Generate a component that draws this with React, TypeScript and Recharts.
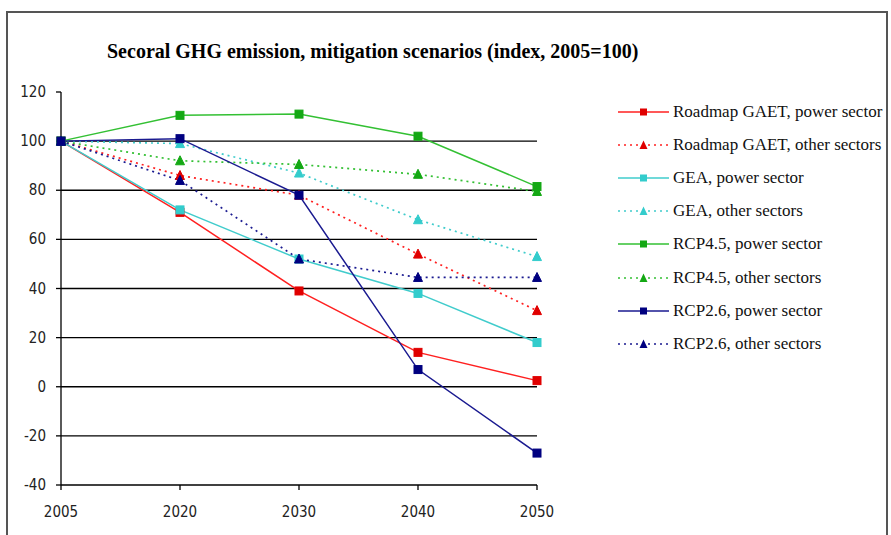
import React from 'react';
import { LineChart, Line, XAxis, YAxis, CartesianGrid, Legend } from 'recharts';

const years = ['2005', '2020', '2030', '2040', '2050'];
const roadmapPower = [100, 71, 39, 14, 2.5];
const roadmapOther = [100, 86, 78, 54, 31];
const geaPower = [100, 72, 52, 38, 18];
const geaOther = [100, 99, 87, 68, 53];
const rcp45Power = [100, 110.5, 111, 102, 81.5];
const rcp45Other = [100, 92, 90.5, 86.5, 79.5];
const rcp26Power = [100, 101, 78, 7, -27];
const rcp26Other = [100, 84, 52, 44.5, 44.5];
const yTicks = [-40, -20, 0, 20, 40, 60, 80, 100, 120];
const gridValues = [-20, 0, 20, 40, 60, 80, 100];

const title = 'Secoral GHG emission, mitigation scenarios (index, 2005=100)';

type SeriesDef = { key: string; name: string; values: number[]; line: string; marker: string; dashed: boolean };

const series: SeriesDef[] = [
  { key: 'roadmapPower', name: 'Roadmap GAET, power sector', values: roadmapPower, line: '#FF2020', marker: '#E00000', dashed: false },
  { key: 'roadmapOther', name: 'Roadmap GAET, other sectors', values: roadmapOther, line: '#FF2020', marker: '#E00000', dashed: true },
  { key: 'geaPower', name: 'GEA, power sector', values: geaPower, line: '#40CCCC', marker: '#33CCCC', dashed: false },
  { key: 'geaOther', name: 'GEA, other sectors', values: geaOther, line: '#40CCCC', marker: '#33CCCC', dashed: true },
  { key: 'rcp45Power', name: 'RCP4.5, power sector', values: rcp45Power, line: '#33C033', marker: '#14A814', dashed: false },
  { key: 'rcp45Other', name: 'RCP4.5, other sectors', values: rcp45Other, line: '#33C033', marker: '#14A814', dashed: true },
  { key: 'rcp26Power', name: 'RCP2.6, power sector', values: rcp26Power, line: '#1A1A90', marker: '#000080', dashed: false },
  { key: 'rcp26Other', name: 'RCP2.6, other sectors', values: rcp26Other, line: '#1A1A90', marker: '#000080', dashed: true },
];

const data = years.map((y, i) => {
  const row: Record<string, string | number> = { year: y };
  series.forEach((s) => {
    row[s.key] = s.values[i];
  });
  return row;
});

const makeDot = (s: SeriesDef) => (props: any) => {
  const { cx, cy, index } = props;
  if (cx == null || cy == null) return <g key={`${s.key}-${index}`} />;
  if (s.dashed) {
    return (
      <path
        key={`${s.key}-${index}`}
        d={`M${cx},${cy - 5} L${cx + 4.5},${cy + 4} L${cx - 4.5},${cy + 4} Z`}
        fill={s.marker}
        stroke={s.marker}
        strokeWidth={1}
        strokeDasharray="none"
      />
    );
  }
  return <rect key={`${s.key}-${index}`} x={cx - 4} y={cy - 4} width={8} height={8} fill={s.marker} stroke={s.marker} strokeWidth={1} />;
};

const tickFont = '"Liberation Sans Narrow", "Arial Narrow", "DejaVu Sans Condensed", sans-serif';

const YTick = (props: any) => {
  const { x, y, payload } = props;
  return (
    <text x={x} y={y} textAnchor="end" dominantBaseline="central" fontFamily={tickFont} fontSize={15} fill="#222">
      {payload.value}
    </text>
  );
};

const XTick = (props: any) => {
  const { x, y, payload } = props;
  return (
    <text x={x} y={y} textAnchor="middle" dominantBaseline="central" fontFamily={tickFont} fontSize={15} fill="#222">
      {payload.value}
    </text>
  );
};

const renderLegend = () => (
  <div style={{ fontFamily: '"Liberation Serif", "Times New Roman", serif', fontSize: 17, color: '#111' }}>
    {series.map((s) => (
      <div key={s.key} style={{ height: 33.2, display: 'flex', alignItems: 'center', whiteSpace: 'nowrap' }}>
        <svg width={57} height={12} style={{ display: 'block' }}>
          <line x1={2} y1={6} x2={53} y2={6} stroke={s.line} strokeWidth={1.5} strokeDasharray={s.dashed ? '2 4' : undefined} />
          {s.dashed ? (
            <path d="M27.5,1.5 L31.5,10 L23.5,10 Z" fill={s.marker} />
          ) : (
            <rect x={24} y={2.5} width={7} height={7} fill={s.marker} />
          )}
        </svg>
        <span>{s.name}</span>
      </div>
    ))}
  </div>
);

export default function App() {
  return (
    <div style={{ position: 'absolute', left: 0, top: 0, width: 891, height: 535, background: '#fff', overflow: 'hidden' }}>
      <div style={{ position: 'absolute', left: 6, top: 11, width: 882, height: 600, border: '2px solid #555', boxSizing: 'border-box' }} />
      <div
        style={{
          position: 'absolute',
          left: 107,
          top: 41,
          fontFamily: '"Liberation Serif", "Times New Roman", serif',
          fontWeight: 'bold',
          fontSize: 20,
          lineHeight: '20px',
          whiteSpace: 'nowrap',
          color: '#000',
        }}
      >
        {title}
      </div>
      <div style={{ position: 'absolute', left: 0, top: 0 }}>
        <LineChart width={891} height={535} data={data} margin={{ top: 92, right: 354, bottom: 20, left: 21 }}>
          <CartesianGrid horizontal vertical={false} stroke="#000" strokeWidth={1.3} horizontalValues={gridValues} />
          <XAxis
            dataKey="year"
            stroke="#000"
            strokeWidth={1.3}
            tickSize={5}
            tickMargin={22}
            height={30}
            tick={<XTick />}
            interval={0}
          />
          <YAxis
            domain={[-40, 120]}
            ticks={yTicks}
            stroke="#000"
            strokeWidth={1.3}
            tickSize={5}
            tickMargin={10}
            width={40}
            tick={<YTick />}
            interval={0}
          />
          {series.map((s) => (
            <Line
              key={s.key}
              type="linear"
              dataKey={s.key}
              name={s.name}
              stroke={s.line}
              strokeWidth={s.dashed ? 1.7 : 1.5}
              strokeDasharray={s.dashed ? '2 4' : undefined}
              dot={makeDot(s)}
              activeDot={false}
              isAnimationActive={false}
            />
          ))}
          <Legend
            layout="vertical"
            align="center"
            verticalAlign="middle"
            content={renderLegend}
            wrapperStyle={{ left: 616, top: 95, width: 275 }}
          />
        </LineChart>
      </div>
    </div>
  );
}
